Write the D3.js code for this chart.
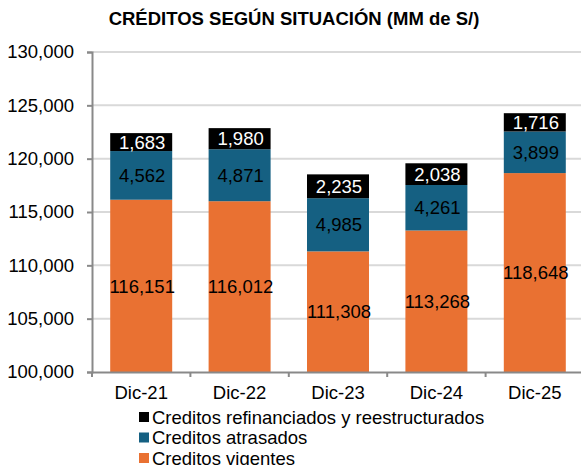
<!DOCTYPE html>
<html>
<head>
<meta charset="utf-8">
<script src="https://cdn.jsdelivr.net/npm/d3@7"></script>
<style>
  body { margin: 0; background: #fff; }
  svg { font-family: "Liberation Sans", Arial, sans-serif; }
</style>
</head>
<body>
<div id="chart"></div>
<script>
// data
const categories = ['Dic-21', 'Dic-22', 'Dic-23', 'Dic-24', 'Dic-25'];
const vigentes = [116151, 116012, 111308, 113268, 118648];
const atrasados = [4562, 4871, 4985, 4261, 3899];
const refinanciados = [1683, 1980, 2235, 2038, 1716];
const yTicks = [100000, 105000, 110000, 115000, 120000, 125000, 130000];
const seriesNames = ['Creditos vigentes', 'Creditos atrasados', 'Creditos refinanciados y reestructurados'];
const colors = ['#E97132', '#156082', '#000000'];
const labelColors = ['#000', '#000', '#fff'];

const width = 581, height = 465;
const margin = { top: 52, right: -3, bottom: 93, left: 92 };
const fs = 18.5;

const svg = d3.select('#chart').append('svg')
    .attr('width', width)
    .attr('height', height);

// Title
svg.append('text')
    .attr('x', 294)
    .attr('y', 25)
    .attr('text-anchor', 'middle')
    .attr('font-size', 18.5)
    .attr('font-weight', 'bold')
    .text('CRÉDITOS SEGÚN SITUACIÓN (MM de S/)');

const xScale = d3.scaleBand()
    .domain(categories)
    .range([margin.left, width - margin.right])
    .paddingInner(0.37)
    .paddingOuter(0.185);

const yScale = d3.scaleLinear()
    .domain([100000, 130000])
    .range([height - margin.bottom, margin.top]);

// Grid
svg.append('g')
    .selectAll('line')
    .data(yTicks.slice(1))
    .join('line')
    .attr('x1', margin.left)
    .attr('x2', width)
    .attr('y1', d => yScale(d))
    .attr('y2', d => yScale(d))
    .attr('stroke', '#d9d9d9')
    .attr('stroke-width', 2);

// Stacked data
const rows = categories.map((c, i) => ({
    cat: c,
    vals: [vigentes[i], atrasados[i], refinanciados[i]]
}));

rows.forEach(r => {
    let acc = 0;
    r.vals.forEach((v, k) => {
        const y0 = k === 0 ? 100000 : acc;
        const y1 = k === 0 ? v : acc + v;
        acc = y1;
        const g = svg.append('g');
        g.append('rect')
            .attr('x', xScale(r.cat))
            .attr('width', xScale.bandwidth())
            .attr('y', yScale(y1))
            .attr('height', yScale(y0) - yScale(y1))
            .attr('fill', colors[k]);
        g.append('text')
            .attr('x', xScale(r.cat) + xScale.bandwidth() / 2 + 1)
            .attr('y', (yScale(y0) + yScale(y1)) / 2)
            .attr('dy', '0.36em')
            .attr('text-anchor', 'middle')
            .attr('font-size', fs)
            .attr('fill', labelColors[k])
            .text(d3.format(',')(v));
    });
});

// y axis
const yAxis = svg.append('g')
    .attr('transform', `translate(${margin.left},0)`)
    .call(d3.axisLeft(yScale).tickValues(yTicks).tickFormat(d3.format(',')).tickSize(5).tickPadding(13));
yAxis.select('.domain').attr('stroke', '#898989').attr('stroke-width', 2);
yAxis.selectAll('.tick line').attr('stroke', '#898989').attr('stroke-width', 2);
yAxis.selectAll('.tick text').attr('font-size', fs).attr('fill', '#000').attr('font-family', null);

// x axis
const xAxis = svg.append('g')
    .attr('transform', `translate(0,${height - margin.bottom})`)
    .call(d3.axisBottom(xScale).tickSize(0).tickPadding(14));
xAxis.select('.domain').attr('stroke', '#898989').attr('stroke-width', 2);
xAxis.selectAll('.tick text').attr('font-size', fs).attr('fill', '#000').attr('font-family', null);
// boundary ticks between categories
xAxis.selectAll('.bound')
    .data(categories)
    .join('line')
    .attr('class', 'bound')
    .attr('x1', d => xScale(d) - xScale.step() * xScale.paddingOuter())
    .attr('x2', d => xScale(d) - xScale.step() * xScale.paddingOuter())
    .attr('y1', 0)
    .attr('y2', 5)
    .attr('stroke', '#898989')
    .attr('stroke-width', 2);

// Legend
const legendOrder = [2, 1, 0];
const legend = svg.append('g');
legendOrder.forEach((k, i) => {
    const y = 417 + i * 20.5;
    legend.append('rect')
        .attr('x', 139)
        .attr('y', y - 5)
        .attr('width', 10)
        .attr('height', 10)
        .attr('fill', colors[k]);
    legend.append('text')
        .attr('x', 152)
        .attr('y', y)
        .attr('dy', '0.36em')
        .attr('font-size', fs)
        .text(seriesNames[k]);
});
</script>
</body>
</html>
